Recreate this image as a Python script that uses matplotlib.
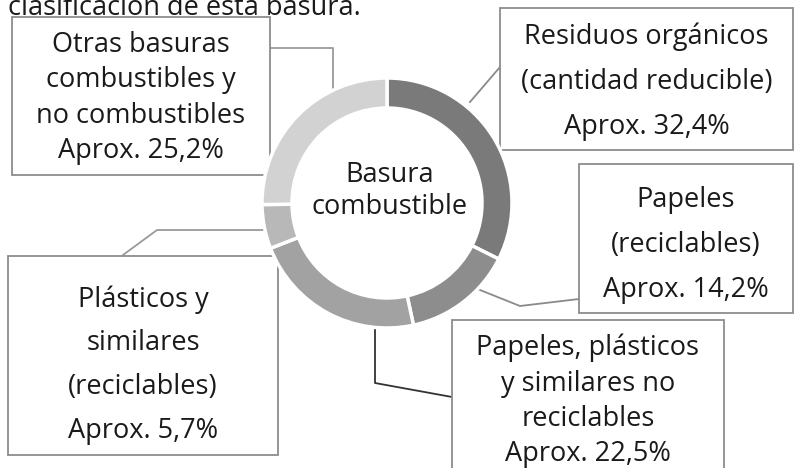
import matplotlib
matplotlib.use('Agg')
import matplotlib.pyplot as plt
from matplotlib.patches import Rectangle

plt.rcParams['font.family'] = ['Open Sans', 'DejaVu Sans']

W, H = 795, 468

# datos: basura combustible (sentido horario desde arriba)
etiquetas = ['Residuos orgánicos\n(cantidad reducible)\nAprox. 32,4%',
             'Papeles\n(reciclables)\nAprox. 14,2%',
             'Papeles, plásticos\ny similares no\nreciclables\nAprox. 22,5%',
             'Plásticos y\nsimilares\n(reciclables)\nAprox. 5,7%',
             'Otras basuras\ncombustibles y\nno combustibles\nAprox. 25,2%']
valores = [32.4, 14.2, 22.5, 5.7, 25.2]
colores = ['#7a7a7a', '#8d8d8d', '#a2a2a2', '#b8b8b8', '#d2d2d2']
titulo = 'clasificación de esta basura.'
centro_txt = 'Basura\ncombustible'


def Y(y):
    # coordenadas en pixeles desde arriba
    return H - y


fig = plt.figure(figsize=(W / 100, H / 100), dpi=100)
ax = fig.add_axes([0, 0, 1, 1])

cx, cy, r = 387, 203, 125
ax.pie(valores, colors=colores, startangle=90, counterclock=False,
       center=(cx, Y(cy)), radius=r,
       wedgeprops=dict(width=30, edgecolor='white', linewidth=2.5),
       frame=True)
for w in ax.patches:
    w.set_zorder(3)

ax.text(cx + 3, Y(191), centro_txt, ha='center', va='center', fontsize=19.5,
        color='#1a1a1a', linespacing=1.2)

ax.text(8, Y(15), titulo, ha='left', va='baseline', fontsize=19.5,
        color='#1a1a1a')

# cajas: (izq, arriba, der, abajo, centro texto y, interlineado)
cajas = [
    (500, 8, 793, 150, 82, 1.8),
    (579, 164, 793, 313, 245, 1.8),
    (452, 320, 724, 480, 401, 1.35),
    (8, 256, 278, 455, 365, 1.75),
    (12, 17, 270, 175, 98, 1.35),
]
lineas = [
    [(500, 67), (470, 102)],
    [(579, 299), (520, 306), (470, 286)],
    [(452, 397), (375, 383), (375, 310)],
    [(123, 255), (157, 230), (275, 230)],
    [(270, 48), (333, 48), (333, 110)],
]
color_linea = ['#8a8a8a', '#8a8a8a', '#333333', '#9a9a9a', '#9a9a9a']

for (x0, y0, x1, y1, ty, ls), et, ln, lc in zip(cajas, etiquetas, lineas, color_linea):
    ax.add_patch(Rectangle((x0, Y(y1)), x1 - x0, y1 - y0, facecolor='white',
                           edgecolor='#8c8c8c', linewidth=1.3, zorder=2))
    ax.text((x0 + x1) / 2, Y(ty), et, ha='center', va='center', fontsize=19.5,
            color='#1a1a1a', linespacing=ls, zorder=4)
    ax.plot([p[0] for p in ln], [Y(p[1]) for p in ln], color=lc,
            linewidth=1.3, zorder=1)

ax.set_xlim(0, W)
ax.set_ylim(0, H)
ax.set_aspect('equal')
ax.axis('off')

fig.savefig('out.png', dpi=100, facecolor='white')
